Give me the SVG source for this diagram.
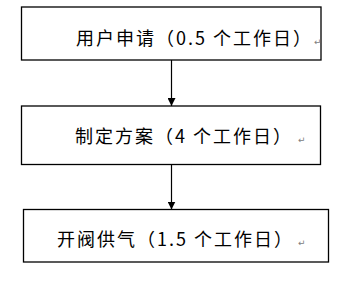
<svg xmlns="http://www.w3.org/2000/svg" width="352" height="295" viewBox="0 0 352 295">
<defs>
<style>
.box{fill:#fff;stroke:#000;stroke-width:1.3}
.t{font-family:"Microsoft YaHei","Noto Sans CJK SC","Noto Sans",sans-serif;font-size:18px;letter-spacing:2px;fill:#000}
.pm{font-family:"DejaVu Sans","Noto Sans CJK SC",sans-serif;font-size:9px;fill:#808080}
.ln{stroke:#000;stroke-width:1.2;fill:none}
</style>
<marker id="ah" markerWidth="8" markerHeight="8" refX="8" refY="4" orient="auto" markerUnits="userSpaceOnUse">
<path d="M0,0 L8,4 L0,8 Z" fill="#000"/>
</marker>
</defs>
<rect width="352" height="295" fill="#fff"/>
<g id="connectors">
<line class="ln" x1="171.5" y1="60" x2="171.5" y2="106" marker-end="url(#ah)"/>
<line class="ln" x1="171.5" y1="164.5" x2="171.5" y2="209.5" marker-end="url(#ah)"/>
</g>
<g id="node1">
<rect class="box" x="21.5" y="7" width="299.5" height="53"/>
<text class="t" x="76" y="45">用户申请（0.5 个工作日）</text>
<text class="pm" x="314" y="45">↵</text>
</g>
<g id="node2">
<rect class="box" x="21.5" y="106" width="299" height="58.5"/>
<text class="t" x="75" y="143">制定方案（4 个工作日）</text>
<text class="pm" x="298" y="143">↵</text>
</g>
<g id="node3">
<rect class="box" x="23.5" y="209.5" width="305" height="52.5"/>
<text class="t" x="57" y="246">开阀供气（1.5 个工作日）</text>
<text class="pm" x="298" y="246">↵</text>
</g>
</svg>
